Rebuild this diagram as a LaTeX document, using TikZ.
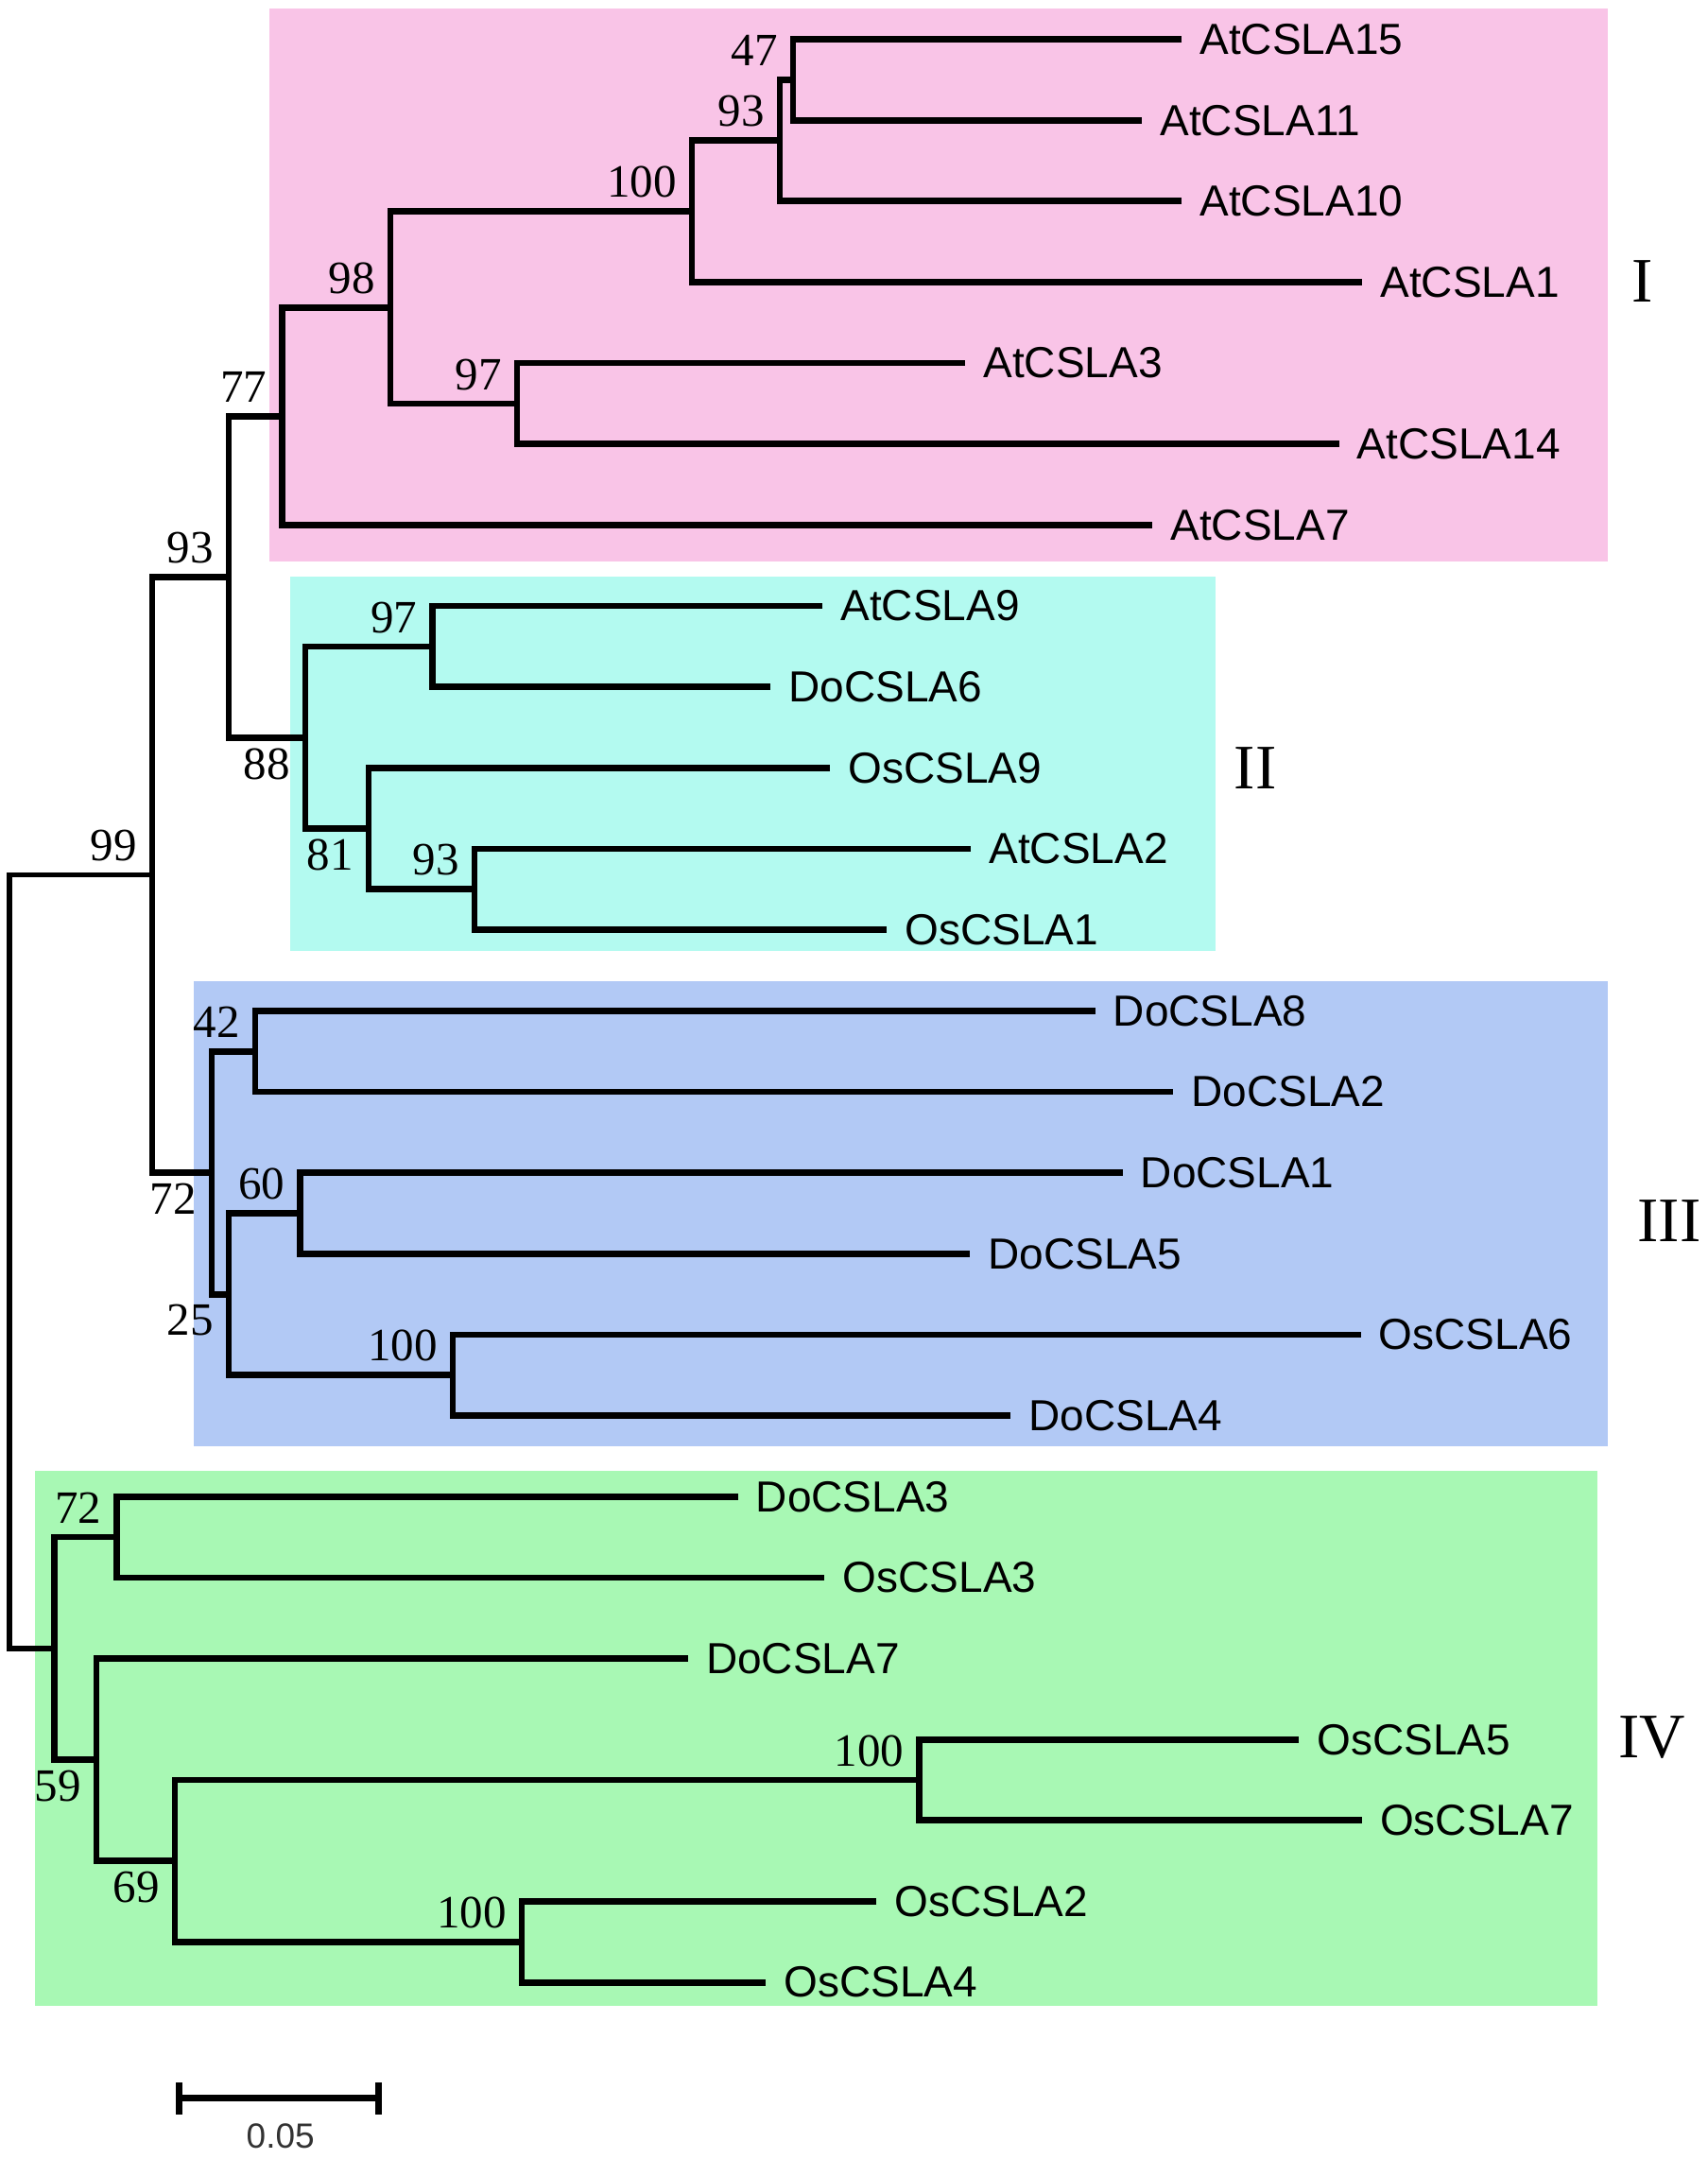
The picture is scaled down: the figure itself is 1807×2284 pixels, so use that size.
\documentclass[tikz,border=0pt]{standalone}
\usepackage{fontspec}
\setmainfont{Liberation Serif}
\setsansfont{Liberation Sans}
\definecolor{cladeI}{RGB}{249,196,231}
\definecolor{cladeII}{RGB}{179,250,240}
\definecolor{cladeIII}{RGB}{178,201,245}
\definecolor{cladeIV}{RGB}{168,248,180}
\begin{document}
\begin{tikzpicture}[x=0.2pt, y=-0.2pt, line width=1.35pt,
		leaf/.style={anchor=west, inner xsep=3.2pt, inner ysep=0pt, font=\sffamily\fontsize{9.2}{9.2}\selectfont},
		bsup/.style={anchor=south east, inner xsep=2.6pt, inner ysep=2.2pt, font=\fontsize{9.8}{9.8}\selectfont},
		bsdown/.style={anchor=north east, inner xsep=2.6pt, inner ysep=1.6pt, font=\fontsize{9.8}{9.8}\selectfont},
		clade/.style={inner sep=0pt, font=\fontsize{13.4}{13.4}\selectfont}]
		\useasboundingbox ( 0, 0 ) rectangle ( 1807, 2284 );

		% фон клад
		\fill [cladeI] ( 285, 9 ) rectangle ( 1701, 594 );
		\fill [cladeII] ( 307, 610 ) rectangle ( 1286, 1006 );
		\fill [cladeIII] ( 205, 1038 ) rectangle ( 1701, 1530 );
		\fill [cladeIV] ( 37, 1556 ) rectangle ( 1690, 2122 );

		% листья
		\node [leaf] (AtCSLA15) at ( 1250, 41.5 ) {AtCSLA15};
		\node [leaf] (AtCSLA11) at ( 1208, 127.2 ) {AtCSLA11};
		\node [leaf] (AtCSLA10) at ( 1250, 212.8 ) {AtCSLA10};
		\node [leaf] (AtCSLA1) at ( 1441, 298.5 ) {AtCSLA1};
		\node [leaf] (AtCSLA3) at ( 1021, 384.1 ) {AtCSLA3};
		\node [leaf] (AtCSLA14) at ( 1416.5, 469.8 ) {AtCSLA14};
		\node [leaf] (AtCSLA7) at ( 1219, 555.4 ) {AtCSLA7};
		\node [leaf] (AtCSLA9) at ( 870, 641.1 ) {AtCSLA9};
		\node [leaf] (DoCSLA6) at ( 815, 726.7 ) {DoCSLA6};
		\node [leaf] (OsCSLA9) at ( 878, 812.4 ) {OsCSLA9};
		\node [leaf] (AtCSLA2) at ( 1027, 898.0 ) {AtCSLA2};
		\node [leaf] (OsCSLA1) at ( 938, 983.7 ) {OsCSLA1};
		\node [leaf] (DoCSLA8) at ( 1158.5, 1069.3 ) {DoCSLA8};
		\node [leaf] (DoCSLA2) at ( 1241, 1155.0 ) {DoCSLA2};
		\node [leaf] (DoCSLA1) at ( 1187.5, 1240.6 ) {DoCSLA1};
		\node [leaf] (DoCSLA5) at ( 1026, 1326.3 ) {DoCSLA5};
		\node [leaf] (OsCSLA6) at ( 1439.6, 1411.9 ) {OsCSLA6};
		\node [leaf] (DoCSLA4) at ( 1069, 1497.6 ) {DoCSLA4};
		\node [leaf] (DoCSLA3) at ( 780.6, 1583.2 ) {DoCSLA3};
		\node [leaf] (OsCSLA3) at ( 872.4, 1668.9 ) {OsCSLA3};
		\node [leaf] (DoCSLA7) at ( 727.8, 1754.5 ) {DoCSLA7};
		\node [leaf] (OsCSLA5) at ( 1374, 1840.2 ) {OsCSLA5};
		\node [leaf] (OsCSLA7) at ( 1440.8, 1925.8 ) {OsCSLA7};
		\node [leaf] (OsCSLA2) at ( 927, 2011.5 ) {OsCSLA2};
		\node [leaf] (OsCSLA4) at ( 810, 2097.1 ) {OsCSLA4};

		% узлы дерева
		\coordinate (n47) at ( 839, 84.3 );
		\coordinate (n93a) at ( 825, 148.6 );
		\coordinate (n100a) at ( 732, 223.5 );
		\coordinate (n97a) at ( 547, 427.0 );
		\coordinate (n98) at ( 413, 325.3 );
		\coordinate (n77) at ( 298.5, 440.3 );
		\coordinate (n97b) at ( 457.5, 683.9 );
		\coordinate (n93c) at ( 502, 940.8 );
		\coordinate (n81) at ( 390, 876.6 );
		\coordinate (n88) at ( 323, 780.2 );
		\coordinate (n93b) at ( 242, 610.3 );
		\coordinate (n42) at ( 270, 1112.2 );
		\coordinate (n60) at ( 317.5, 1283.5 );
		\coordinate (n100b) at ( 479, 1454.8 );
		\coordinate (n25) at ( 242, 1369.1 );
		\coordinate (n72a) at ( 224, 1240.6 );
		\coordinate (n99) at ( 161, 925.4 );
		\coordinate (n72b) at ( 123.4, 1626.0 );
		\coordinate (n100c) at ( 972.7, 1883.0 );
		\coordinate (n100d) at ( 552, 2054.3 );
		\coordinate (n69) at ( 185, 1968.6 );
		\coordinate (n59) at ( 102, 1861.5 );
		\coordinate (n57) at ( 57.4, 1743.8 );
		\coordinate (root) at ( 10, 1334.6 );

		% клада I
		\draw (AtCSLA15.west) -| (n47) |- (AtCSLA11.west);
		\draw (n47) -| (n93a) |- (AtCSLA10.west);
		\draw (n93a) -| (n100a) |- (AtCSLA1.west);
		\draw (AtCSLA3.west) -| (n97a) |- (AtCSLA14.west);
		\draw (n100a) -| (n98) |- (n97a);
		\draw (n98) -| (n77) |- (AtCSLA7.west);

		% клада II
		\draw (AtCSLA9.west) -| (n97b) |- (DoCSLA6.west);
		\draw (AtCSLA2.west) -| (n93c) |- (OsCSLA1.west);
		\draw (OsCSLA9.west) -| (n81) |- (n93c);
		\draw (n97b) -| (n88) |- (n81);
		\draw (n77) -| (n93b) |- (n88);

		% клада III
		\draw (DoCSLA8.west) -| (n42) |- (DoCSLA2.west);
		\draw (DoCSLA1.west) -| (n60) |- (DoCSLA5.west);
		\draw (OsCSLA6.west) -| (n100b) |- (DoCSLA4.west);
		\draw (n60) -| (n25) |- (n100b);
		\draw (n42) -| (n72a) |- (n25);
		\draw (n93b) -| (n99) |- (n72a);

		% клада IV
		\draw (DoCSLA3.west) -| (n72b) |- (OsCSLA3.west);
		\draw (OsCSLA5.west) -| (n100c) |- (OsCSLA7.west);
		\draw (OsCSLA2.west) -| (n100d) |- (OsCSLA4.west);
		\draw (n100c) -| (n69) |- (n100d);
		\draw (DoCSLA7.west) -| (n59) |- (n69);
		\draw (n72b) -| (n57) |- (n59);

		% корень
		\draw [line width=1.1pt] (n99) -| (root) |- (n57);

		% бутстреп
		\node [bsup] (b47) at (n47) {47};
		\node [bsup] (b93a) at (n93a) {93};
		\node [bsup] (b100a) at (n100a) {100};
		\node [bsup] (b98) at (n98) {98};
		\node [bsup] (b97a) at (n97a) {97};
		\node [bsup] (b77) at (n77) {77};
		\node [bsup] (b93b) at (n93b) {93};
		\node [bsup] (b99) at (n99) {99};
		\node [bsup] (b97b) at (n97b) {97};
		\node [bsdown] (b88) at (n88) {88};
		\node [bsdown] (b81) at (n81) {81};
		\node [bsup] (b93c) at (n93c) {93};
		\node [bsup] (b42) at (n42) {42};
		\node [bsdown] (b72a) at (n72a) {72};
		\node [bsup] (b60) at (n60) {60};
		\node [bsdown] (b25) at (n25) {25};
		\node [bsup] (b100b) at (n100b) {100};
		\node [bsup] (b72b) at (n72b) {72};
		\node [bsdown] (b59) at (n59) {59};
		\node [bsdown] (b69) at (n69) {69};
		\node [bsup] (b100c) at (n100c) {100};
		\node [bsup] (b100d) at (n100d) {100};

		% номера клад
		\node [clade] (cI) at ( 1738, 298 ) {I};
		\node [clade] (cII) at ( 1328, 813 ) {II};
		\node [clade] (cIII) at ( 1766, 1292 ) {III};
		\node [clade] (cIV) at ( 1748, 1838 ) {IV};

		% масштаб
		\draw ( 189.4, 2219.5 ) -- ( 400.7, 2219.5 );
		\draw ( 189.4, 2203 ) -- ( 189.4, 2236.6 );
		\draw ( 400.7, 2203 ) -- ( 400.7, 2236.6 );
		\node [inner sep=0pt, text=black!80, font=\sffamily\fontsize{7.4}{7.4}\selectfont] (scale) at ( 296.7, 2260 ) {0.05};
	\end{tikzpicture}
\end{document}
